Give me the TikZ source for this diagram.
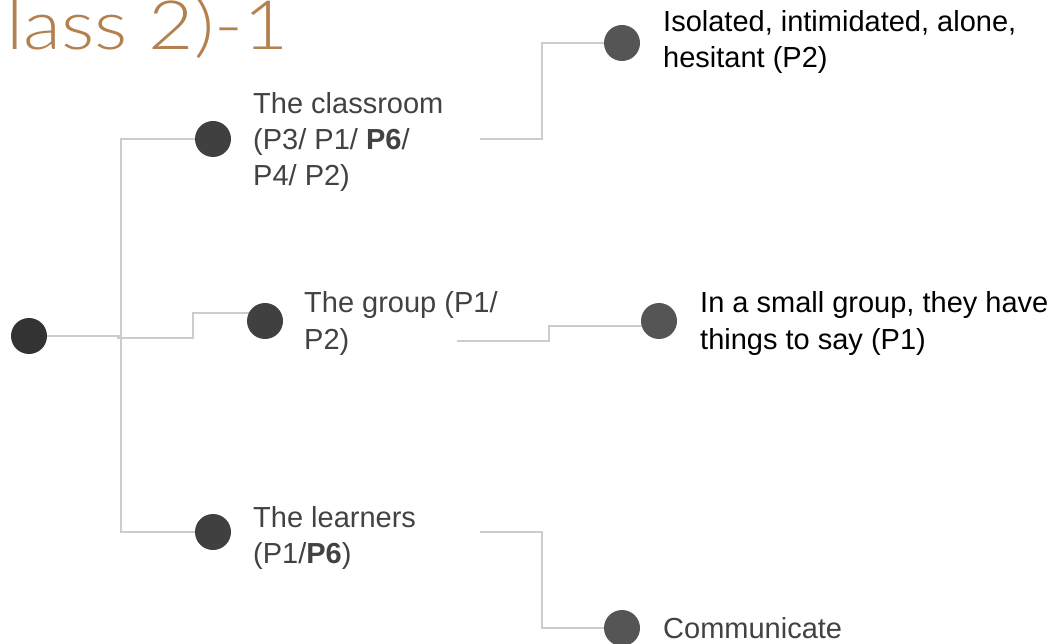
\documentclass[tikz,border=0pt]{standalone}
\usepackage{fontspec}
\setmainfont{Liberation Sans}
\newfontfamily\titlefont{Lato Light}
\usetikzlibrary{backgrounds}
\definecolor{titlebrown}{HTML}{B4804F}
\definecolor{rootgray}{HTML}{333333}
\definecolor{midgray}{HTML}{404040}
\definecolor{leafgray}{HTML}{555555}
\definecolor{linkgray}{HTML}{CCCCCC}
\definecolor{midtext}{HTML}{424242}
\begin{document}
\begin{tikzpicture}[x=1pt,y=-1pt,line join=round,font=\fontsize{29}{36}\selectfont,
	dot/.style={circle,fill=#1,minimum size=36pt,inner sep=0pt},
	link/.style={draw=linkgray,line width=2pt},
	lbl/.style={anchor=base west,inner sep=0pt,align=left}]
	\useasboundingbox (0,0) rectangle (1055,644);
	\clip (0,0) rectangle (1055,644);
	\node[lbl,text=titlebrown,font=\titlefont\fontsize{68}{68}\selectfont] (title) at (6,50) {\scalebox{1.15}[1]{lass 2)-1}};
	\foreach \n/\p/\c in {root/{29,336}/rootgray,classroom/{213,139}/midgray,group/{265,321}/midgray,learners/{213,532}/midgray,isolated/{622,43}/leafgray,smallgrp/{659,321}/leafgray,communicate/{622,628}/leafgray}
	\node[dot=\c] (\n) at (\p) {};
	\node[lbl,text=midtext] (classroomtxt) at (253,186) {The classroom\\(P3/ P1/ \textbf{P6}/\\P4/ P2)};
	\node[lbl,text=midtext] (grouptxt) at (304,349) {The group (P1/\\P2)};
	\node[lbl,text=midtext] (learnerstxt) at (253,563) {The learners\\(P1/\textbf{P6})};
	\node[lbl] (isolatedtxt) at (663,68) {Isolated, intimidated, alone,\\hesitant (P2)};
	\node[lbl] (smallgrptxt) at (700,349) {In a small group, they have\\things to say (P1)};
	\node[lbl,text=midtext] (communicatetxt) at (663,638) {Communicate};
	\coordinate (trunk) at (121,336);
	\coordinate (trjoin) at (117,338);
	\coordinate (grbend) at (193,313);
	\coordinate (crout) at (480,139);
	\coordinate (grout) at (457,341);
	\coordinate (grstep) at (549,326);
	\coordinate (lnout) at (480,532);
	\begin{scope}[on background layer]
		\draw[link] (root) -- (trunk) (trunk) |- (classroom) (trunk) |- (learners);
		\draw[link] (trjoin) -| (grbend) -- (grbend -| group);
		\draw[link] (crout) -- ++(62,0) |- (isolated);
		\draw[link] (grout) -| (grstep) -- (grstep -| smallgrp);
		\draw[link] (lnout) -- ++(62,0) |- (communicate);
	\end{scope}
\end{tikzpicture}
\end{document}
